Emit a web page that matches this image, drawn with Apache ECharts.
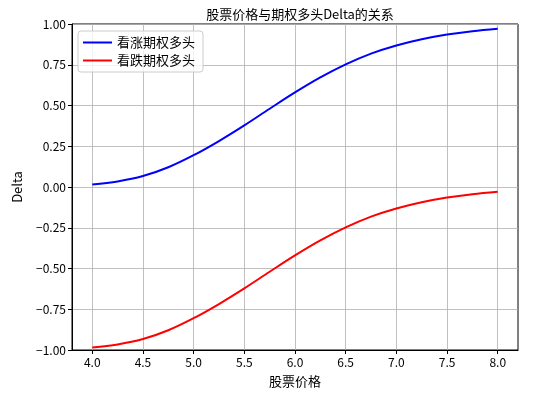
<!DOCTYPE html>
<html>
<head>
<meta charset="utf-8">
<script src="https://cdn.jsdelivr.net/npm/echarts@6/dist/echarts.min.js"></script>
<style>
  html, body { margin: 0; padding: 0; background: #fff; }
  #chart { width: 555px; height: 398px; }
</style>
</head>
<body>
<div id="chart"></div>
<script>
// stock prices sampled along the x axis
const prices = [4.0, 4.25, 4.5, 4.75, 5.0, 5.25, 5.5, 5.75, 6.0, 6.25, 6.5, 6.75, 7.0, 7.25, 7.5, 7.75, 8.0];
// delta
const callDelta = [0.015, 0.034, 0.067, 0.121, 0.195, 0.282, 0.378, 0.48, 0.58, 0.672, 0.752, 0.818, 0.868, 0.906, 0.935, 0.956, 0.971];
const putDelta = [-0.985, -0.966, -0.933, -0.879, -0.805, -0.718, -0.622, -0.52, -0.42, -0.328, -0.248, -0.182, -0.132, -0.094, -0.065, -0.044, -0.029];
const xTicks = [4.0, 4.5, 5.0, 5.5, 6.0, 6.5, 7.0, 7.5, 8.0];

const font = '"Noto Sans CJK SC", "DejaVu Sans", sans-serif';

const chart = echarts.init(document.getElementById('chart'));

const option = {
  animation: false,
  title: {
    text: '股票价格与期权多头Delta的关系',
    left: 295,
    textAlign: 'center',
    top: 3,
    textStyle: { fontFamily: font, fontSize: 13, fontWeight: 'normal', color: '#000' }
  },
  legend: {
    orient: 'vertical',
    left: 78,
    top: 31,
    padding: [5, 8, 5, 5],
    itemGap: 5,
    itemWidth: 29,
    itemHeight: 2,
    icon: 'rect',
    borderColor: '#cccccc',
    borderWidth: 1,
    borderRadius: 3,
    backgroundColor: 'rgba(255,255,255,0.8)',
    textStyle: { fontFamily: font, fontSize: 13, color: '#000' },
    data: ['看涨期权多头', '看跌期权多头']
  },
  grid: {
    left: 72,
    right: 37,
    top: 24,
    bottom: 48,
    show: true,
    borderColor: '#000',
    borderWidth: 1,
    backgroundColor: 'transparent'
  },
  xAxis: {
    type: 'value',
    min: 3.8,
    max: 8.2,
    name: '股票价格',
    nameLocation: 'middle',
    nameGap: 25,
    nameTextStyle: { fontFamily: font, fontSize: 13, color: '#000' },
    axisLine: { show: true, onZero: false, lineStyle: { color: '#000' } },
    axisTick: { show: true, length: 4, customValues: xTicks, lineStyle: { color: '#000' } },
    axisLabel: {
      customValues: xTicks,
      fontFamily: font, fontSize: 12, color: '#000', margin: 6,
      formatter: v => v.toFixed(1)
    },
    splitLine: { show: true, lineStyle: { color: '#b0b0b0', width: 0.8 } }
  },
  yAxis: {
    type: 'value',
    min: -1,
    max: 1,
    interval: 0.25,
    name: 'Delta',
    nameLocation: 'middle',
    nameGap: 48,
    nameTextStyle: { fontFamily: font, fontSize: 13, color: '#000' },
    axisLine: { show: true, onZero: false, lineStyle: { color: '#000' } },
    axisTick: { show: true, length: 4, lineStyle: { color: '#000' } },
    axisLabel: {
      fontFamily: font, fontSize: 12, color: '#000', margin: 6,
      formatter: v => v.toFixed(2).replace('-', '\u2212')
    },
    splitLine: { show: true, lineStyle: { color: '#b0b0b0', width: 0.8 } }
  },
  series: [
    {
      name: '看涨期权多头',
      type: 'line',
      data: prices.map((p, i) => [p, callDelta[i]]),
      smooth: 0.35,
      showSymbol: false,
      color: '#0000ff',
      lineStyle: { width: 2 }
    },
    {
      name: '看跌期权多头',
      type: 'line',
      data: prices.map((p, i) => [p, putDelta[i]]),
      smooth: 0.35,
      showSymbol: false,
      color: '#ff0000',
      lineStyle: { width: 2 }
    }
  ]
};

chart.setOption(option);
window.addEventListener('resize', () => chart.resize());
</script>
</body>
</html>
